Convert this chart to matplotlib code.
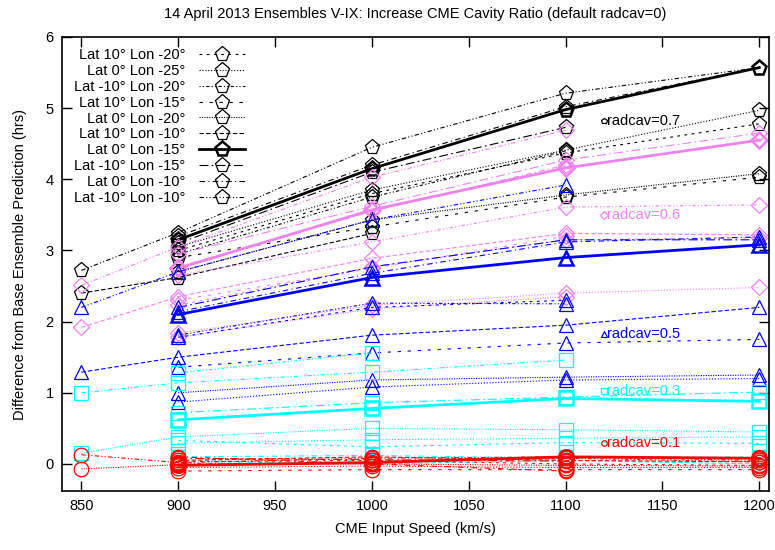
import numpy as np
import matplotlib
matplotlib.use("Agg")
import matplotlib.pyplot as plt

nan = np.nan
speeds = [850, 900, 1000, 1100, 1200]
members = ["Lat 10° Lon -20°", "Lat 0° Lon -25°", "Lat -10° Lon -20°", "Lat 10° Lon -15°",
           "Lat 0° Lon -20°", "Lat 10° Lon -10°", "Lat 0° Lon -15°", "Lat -10° Lon -15°",
           "Lat 0° Lon -10°", "Lat -10° Lon -10°"]

radcav07 = [
    [nan, 3.00, 3.80, 4.37, 4.78],
    [nan, 3.05, 3.85, 4.41, 4.97],
    [nan, 2.95, 3.75, 4.40, nan],
    [nan, 2.90, 3.33, 3.75, 4.03],
    [nan, 2.70, 3.43, 3.78, 4.08],
    [2.40, 2.62, 3.24, nan, nan],
    [nan, 3.15, 4.15, 4.98, 5.57],
    [nan, 3.10, 4.10, 4.73, nan],
    [nan, 3.20, 4.20, 5.02, 5.57],
    [2.72, 3.25, 4.45, 5.21, 5.57],
]
radcav06 = [
    [nan, 2.23, 2.77, 3.15, 3.18],
    [nan, 1.84, 2.23, 2.40, 2.48],
    [nan, 2.65, 3.12, 3.61, 3.64],
    [nan, 2.30, 2.75, 3.20, nan],
    [nan, 1.78, 2.18, 2.35, nan],
    [1.92, 2.35, 2.89, 3.24, 3.22],
    [nan, 2.75, 3.57, 4.16, 4.55],
    [nan, 2.95, 3.62, 4.27, 4.65],
    [nan, 2.77, 3.55, 4.20, nan],
    [2.51, 3.05, 4.03, 4.69, nan],
]
radcav05 = [
    [nan, 1.78, 2.20, 2.30, nan],
    [nan, 0.87, 1.08, 1.18, 1.20],
    [nan, 1.81, 2.26, 2.25, nan],
    [nan, 1.36, 1.56, 1.70, 1.75],
    [nan, 1.00, 1.18, 1.22, 1.25],
    [1.29, 1.50, 1.81, 1.95, 2.20],
    [nan, 2.10, 2.62, 2.90, 3.08],
    [nan, 2.20, 2.77, 3.15, 3.15],
    [nan, 2.14, 2.68, 3.12, 3.19],
    [2.20, 2.70, 3.43, 3.92, nan],
]
radcav03 = [
    [nan, 0.33, 0.24, 0.30, 0.29],
    [nan, 0.29, 0.34, 0.36, 0.38],
    [nan, 1.28, 1.56, nan, nan],
    [nan, 0.00, 0.05, 0.10, 0.08],
    [0.15, 0.38, 0.50, 0.48, 0.45],
    [nan, 0.05, 0.00, 0.05, 0.00],
    [nan, 0.62, 0.78, 0.92, 0.88],
    [nan, 0.72, 0.86, 0.94, 1.01],
    [nan, 0.10, 0.12, 0.08, 0.10],
    [1.00, 1.14, 1.29, 1.46, nan],
]
radcav01 = [
    [nan, 0.03, 0.05, 0.00, -0.02],
    [nan, -0.05, -0.03, -0.05, -0.05],
    [nan, 0.00, 0.02, 0.08, 0.03],
    [nan, -0.10, -0.08, -0.08, -0.08],
    [-0.07, -0.01, 0.00, -0.02, -0.03],
    [nan, 0.05, 0.10, 0.05, 0.03],
    [nan, -0.02, 0.02, 0.10, 0.08],
    [nan, 0.08, 0.06, 0.04, nan],
    [nan, 0.10, 0.00, -0.10, nan],
    [0.13, 0.02, 0.08, 0.10, 0.05],
]

groups = [
    ("radcav=0.7", radcav07, "black", "p", 4.82),
    ("radcav=0.6", radcav06, "violet", "D", 3.50),
    ("radcav=0.5", radcav05, "blue", "^", 1.83),
    ("radcav=0.3", radcav03, "cyan", "s", 1.02),
    ("radcav=0.1", radcav01, "red", "o", 0.30),
]

styles = [
    (0, (2.5, 4)),
    (0, (1, 1.6)),
    (0, (1, 2, 1, 2, 3, 2)),
    (0, (3, 6)),
    (0, (1, 1.2)),
    (0, (4, 2)),
    "-",
    (0, (8, 3, 1.5, 3)),
    (0, (5, 3, 1, 3)),
    (0, (4, 2, 1, 2, 1, 2)),
]
msizes = {"p": 11, "o": 10.5, "s": 10, "^": 10, "D": 8.5}

plt.rcParams['font.family'] = ['Liberation Sans', 'DejaVu Sans']
fig = plt.figure(figsize=(7.75, 5.5), dpi=100)
ax = fig.add_axes([62/775, 1 - 491/550, (769-62)/775, (491-37)/550])

x = np.array(speeds, dtype=float)
for gi, (lab, data, col, mk, ly) in enumerate(groups):
    for i, row in enumerate(data):
        y = np.array(row, dtype=float)
        bold = (i == 6)
        ax.plot(x, y, linestyle=styles[i], color=col, lw=2.0 if bold else 0.8,
                marker=mk, markersize=msizes[mk], markerfacecolor="none",
                markeredgecolor=col, markeredgewidth=1.8 if bold else 0.9,
                label=members[i] if gi == 0 else None)
    ax.plot([1120], [ly], marker=mk, markersize=4, markerfacecolor="none",
            markeredgecolor=col, markeredgewidth=0.9, linestyle="none")
    ax.text(1121.5, ly, lab, color=col, fontsize=10.5, va="center", ha="left")

ax.set_xlim(840, 1205)
ax.set_ylim(-0.38, 6)
ax.set_xticks([850, 900, 950, 1000, 1050, 1100, 1150, 1200])
ax.set_yticks([0, 1, 2, 3, 4, 5, 6])
ax.tick_params(direction="in", length=7, width=1, top=True, right=True, labelsize=10.5, pad=6)
for s in ax.spines.values():
    s.set_linewidth(1.2)

ax.set_xlabel("CME Input Speed (km/s)", fontsize=10.5, labelpad=6)
ax.set_ylabel("Difference from Base Ensemble Prediction (hrs)", fontsize=10.5, labelpad=13)
ax.set_title("14 April 2013 Ensembles V-IX: Increase CME Cavity Ratio (default radcav=0)",
             fontsize=10.5, pad=14)

ax.legend(loc="upper left", bbox_to_anchor=(0.005, 0.995), frameon=False, markerfirst=False,
          fontsize=10.5, handlelength=3.2, labelspacing=0.13, handletextpad=0.9,
          borderaxespad=0.2)

fig.savefig("out.png", dpi=100)
